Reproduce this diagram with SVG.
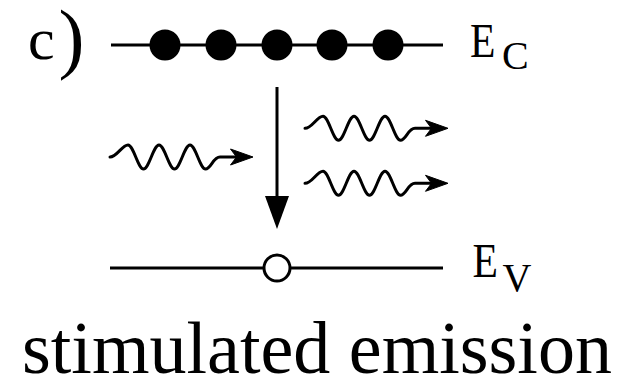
<svg xmlns="http://www.w3.org/2000/svg" width="619" height="379" viewBox="0 0 619 379">
  <defs>
    <g id="photon">
      <path d="M0,0 C7,0 12,-12 18,-12 C23.6,-12 27.9,12 33.5,12 C39.1,12 43.4,-12 49,-12 C54.6,-12 58.9,12 64.5,12 C70.1,12 74.4,-12 80,-12 C85.6,-12 89.9,12 95.5,12 C101,12 103,0 110,0 L128,0" stroke="#000" stroke-width="3" fill="none" stroke-linecap="round" stroke-linejoin="round"/>
      <path d="M143,0 L120.5,-8 L126.5,0 L120.5,8 Z" fill="#000" stroke="#000" stroke-width="1"/>
    </g>
  </defs>
  <rect width="619" height="379" fill="#fff"/>

  <g id="label-c">
    <text x="28" y="59" font-size="60" font-family="Liberation Serif" fill="#000">c</text>
    <text x="58.4" y="64" font-size="78" font-family="Liberation Serif" fill="#000">)</text>
  </g>

  <g id="level-ec">
    <line x1="111" y1="45" x2="443" y2="45" stroke="#000" stroke-width="3"/>
    <text x="0" y="0" font-size="49" font-family="Liberation Serif" fill="#000" transform="translate(470,57.3) scale(0.85,1)">E</text>
    <text x="502" y="68.8" font-size="40" font-family="Liberation Serif" fill="#000">C</text>
  </g>

  <g id="electrons" fill="#000">
    <circle cx="165" cy="45" r="15.5"/>
    <circle cx="221" cy="45" r="15.5"/>
    <circle cx="277" cy="45" r="15.5"/>
    <circle cx="332" cy="45" r="15.5"/>
    <circle cx="388" cy="45" r="15.5"/>
  </g>

  <g id="level-ev">
    <line x1="110" y1="268" x2="443" y2="268" stroke="#000" stroke-width="3"/>
    <text x="0" y="0" font-size="49" font-family="Liberation Serif" fill="#000" transform="translate(472.5,277.3) scale(0.85,1)">E</text>
    <text x="502.4" y="291.2" font-size="40" font-family="Liberation Serif" fill="#000">V</text>
  </g>

  <g id="hole">
    <circle cx="277" cy="268" r="13" fill="#fff" stroke="#000" stroke-width="3"/>
  </g>

  <g id="connectors">
    <line x1="277" y1="87" x2="277" y2="200" stroke="#000" stroke-width="3"/>
    <path d="M265,196 L289,196 L277,229 Z" fill="#000"/>
    <use href="#photon" transform="translate(110,157)"/>
    <use href="#photon" transform="translate(305,128.3)"/>
    <use href="#photon" transform="translate(305,183.3)"/>
  </g>

  <g id="caption">
    <text x="22" y="373" font-size="74" font-family="Liberation Serif" fill="#000">stimulated emission</text>
  </g>
</svg>
